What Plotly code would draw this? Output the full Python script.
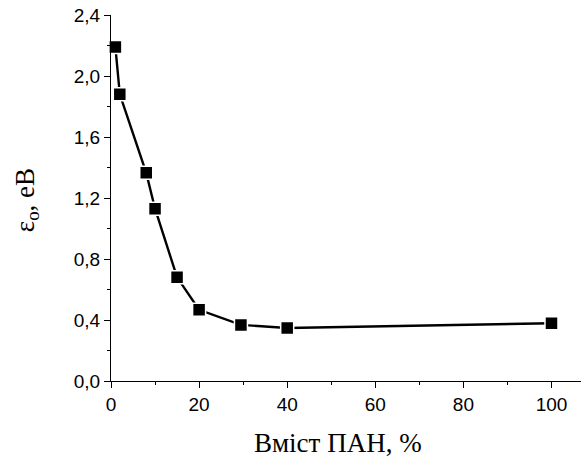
import plotly.graph_objects as go

x_pan = [1, 2, 8, 10, 15, 20, 29.5, 40, 100]
eps_o = [2.19, 1.88, 1.365, 1.13, 0.68, 0.467, 0.368, 0.348, 0.379]

x_ticks = [0, 20, 40, 60, 80, 100]
y_ticks = [0, 0.4, 0.8, 1.2, 1.6, 2.0, 2.4]
y_tick_labels = ["0,0", "0,4", "0,8", "1,2", "1,6", "2,0", "2,4"]

fig = go.Figure()
fig.add_trace(go.Scatter(
    x=x_pan, y=eps_o, mode="lines+markers",
    line=dict(color="black", width=2.4),
    marker=dict(symbol="square", size=13, color="black", line=dict(color="white", width=1.5)),
    showlegend=False, cliponaxis=False,
))

axis_common = dict(
    showgrid=False, zeroline=False, showline=True, linecolor="black", linewidth=1.3,
    ticks="outside", tickcolor="black", ticklen=6, tickwidth=1.3, automargin=False,
    ticklabeloverflow="allow",
    tickfont=dict(family="Liberation Sans, Arial", size=19, color="black"),
)

title_font = dict(family="Liberation Serif, Times New Roman", size=27, color="black")

fig.update_layout(
    width=582, height=459,
    margin=dict(l=111, r=1, t=15, b=78),
    paper_bgcolor="white", plot_bgcolor="white",
    xaxis=dict(
        range=[0, 106.7], tickvals=x_ticks,
        minor=dict(dtick=10, ticks="outside", ticklen=3, tickcolor="black", tickwidth=1.3),
        **axis_common,
    ),
    yaxis=dict(
        range=[0, 2.4], tickvals=y_ticks, ticktext=y_tick_labels,
        minor=dict(dtick=0.2, ticks="outside", ticklen=3, tickcolor="black", tickwidth=1.3),
        **axis_common,
    ),
    annotations=[
        dict(text="Вміст ПАН, %", xref="paper", yref="paper", x=0.483, y=0,
             xanchor="center", yanchor="middle", yshift=-62, showarrow=False, font=title_font),
        dict(text="ε<sub>o</sub>, eB", xref="paper", yref="paper", x=0, y=0.494,
             xanchor="center", yanchor="middle", xshift=-84, textangle=-90, showarrow=False, font=title_font),
    ],
)

fig.write_html("out.html", config={"displayModeBar": False},
               post_script="document.body.style.margin='0';")
